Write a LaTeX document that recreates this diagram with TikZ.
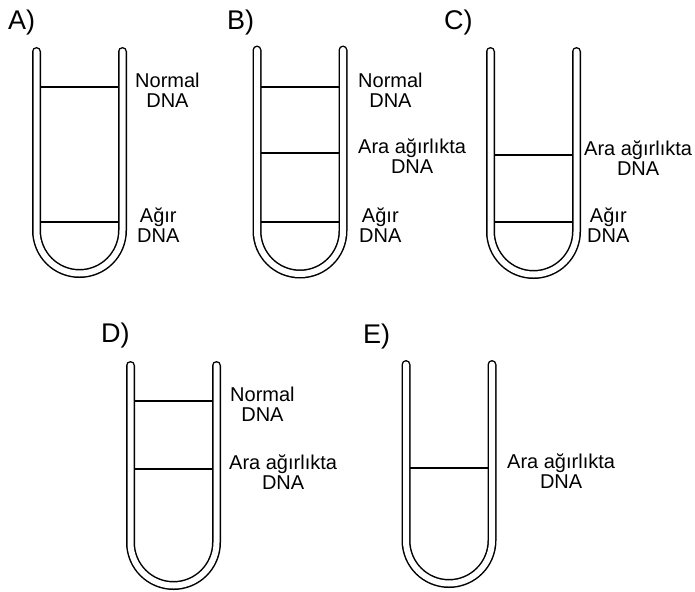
\documentclass[tikz,border=0pt]{standalone}
\usepackage{fontspec}
\setmainfont{Liberation Sans}
\usepackage{tikz}

\tikzset{
  tubewall/.style={line width=1.5pt, double=white, double distance=6pt, line cap=round},
  band/.style={line width=1.5pt},
  lbl/.style={anchor=north west, inner sep=0pt, align=center, font=\fontsize{20}{20}\selectfont},
  letter/.style={anchor=base west, inner sep=0pt, font=\fontsize{27}{27}\selectfont}
}

% tube: left wall centre x, top y, straight length
\newcommand{\drawtube}[3]{%
  \draw[tubewall] (#1,#2) -- (#1,#2+#3) arc[start angle=180, end angle=0, radius=43] -- (#1+86,#2);
}
% band across tube with left wall centre x
\newcommand{\drawband}[2]{%
  \draw[band] (#1+3.5,#2) -- (#1+82.5,#2);
}

\begin{document}
\begin{tikzpicture}[x=1pt, y=-1pt]
  \useasboundingbox (0,0) rectangle (695,591);

  %% Top row
  \node[letter] (tA) at (8,30) {A)};
  \node[letter] (tB) at (227,30) {B)};
  \node[letter] (tC) at (444,30) {C)};

  % Tube A
  \drawtube{36.5}{51.5}{179}
  \drawband{36.5}{87}
  \drawband{36.5}{222}
  \node[lbl] (nA) at (135,72.5) {Normal\\DNA};
  \node[lbl] (hA) at (137,207.5) {Ağır\\DNA};

  % Tube B
  \drawtube{257}{50}{181}
  \drawband{257}{87}
  \drawband{257}{153}
  \drawband{257}{222}
  \node[lbl] (nB) at (358,72.5) {Normal\\DNA};
  \node[lbl] (mB) at (358,138.5) {Ara ağırlıkta\\DNA};
  \node[lbl] (hB) at (359,207.5) {Ağır\\DNA};

  % Tube C
  \drawtube{490.5}{51.5}{180}
  \drawband{490.5}{155}
  \drawband{490.5}{222}
  \node[lbl] (mC) at (584,140.5) {Ara ağırlıkta\\DNA};
  \node[lbl] (hC) at (587,207.5) {Ağır\\DNA};

  %% Bottom row
  \node[letter] (tD) at (101,342) {D)};
  \node[letter] (tE) at (363,343) {E)};

  % Tube D
  \drawtube{130.5}{365.5}{177}
  \drawband{130.5}{401}
  \drawband{130.5}{469}
  \node[lbl] (nD) at (230,386.5) {Normal\\DNA};
  \node[lbl] (mD) at (229,454.5) {Ara ağırlıkta\\DNA};

  % Tube E
  \drawtube{406}{364.5}{176}
  \drawband{406}{468}
  \node[lbl] (mE) at (507,453.5) {Ara ağırlıkta\\DNA};
\end{tikzpicture}
\end{document}
